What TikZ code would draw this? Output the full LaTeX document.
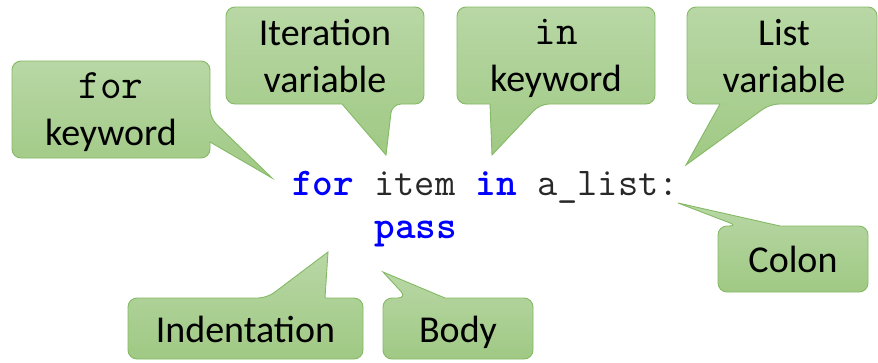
\documentclass[tikz,border=0pt]{standalone}
\usepackage{fontspec}
\setmainfont{Carlito}
\definecolor{bubbletop}{RGB}{184,215,165}
\definecolor{bubblebot}{RGB}{160,201,132}
\definecolor{bubbleline}{RGB}{132,186,101}
\definecolor{kwblue}{RGB}{0,0,255}
\definecolor{codegray}{RGB}{40,40,40}
\newcommand{\kw}[1]{\textcolor{kwblue}{\textbf{#1}}}
\tikzset{
    bubble/.style={draw=bubbleline, line width=0.9pt, top color=bubbletop, bottom color=bubblebot, rounded corners=9pt},
    lbl/.style={font=\fontsize{38}{47}\selectfont, align=center, inner sep=0pt},
    code/.style={font=\fontsize{39.3}{44}\selectfont\ttfamily, text=codegray, inner sep=0pt, anchor=base west}
}

\begin{document}
\begin{tikzpicture}[x=1pt,y=-1pt]
    \useasboundingbox (0,0) rectangle (878,362);
    \fill[white] (0,0) rectangle (878,362);

    \coordinate (forkwtip) at (272,178);
    \coordinate (itertip) at (386,155);
    \coordinate (inkwtip) at (492,155);
    \coordinate (listtip) at (686,165);
    \coordinate (colontip) at (678,203);
    \coordinate (indenttip) at (328,252);
    \coordinate (bodytip) at (383,272);

    \path[bubble] (111,61) -- (210,61) -- (210,118) [sharp corners] -- (forkwtip) -- (210,142) [rounded corners=9pt] -- (210,158) -- (12,158) -- (12,61) -- cycle;
    \path[bubble] (325,7) -- (424,7) -- (424,104) -- (392,104) [sharp corners] -- (itertip) -- (342,104) [rounded corners=9pt] -- (226,104) -- (226,7) -- cycle;
    \path[bubble] (556,7) -- (655,7) -- (655,104) -- (540,104) [sharp corners] -- (inkwtip) -- (490,104) [rounded corners=9pt] -- (457,104) -- (457,7) -- cycle;
    \path[bubble] (782,7) -- (877,7) -- (877,104) -- (770,104) [sharp corners] -- (listtip) -- (720,104) [rounded corners=9pt] -- (687,104) -- (687,7) -- cycle;
    \path[bubble] (830,226) -- (868,226) -- (868,292) -- (718,292) -- (718,226) -- (738,226) [sharp corners] -- (colontip) -- (780,226) [rounded corners=9pt] -- cycle;
    \path[bubble] (128,330) -- (128,298) -- (267,298) [sharp corners] -- (indenttip) -- (325,298) [rounded corners=9pt] -- (363,298) -- (363,359) -- (128,359) -- cycle;
    \path[bubble] (383,330) -- (383,298) -- (407,298) [sharp corners] -- (bodytip) -- (445,298) [rounded corners=9pt] -- (533,298) -- (533,359) -- (383,359) -- cycle;

    \node[lbl] (forkw) at (111,112) {{\fontsize{42}{47}\selectfont\ttfamily for}\\keyword};
    \node[lbl] (iter) at (325,56) {Iteration\\variable};
    \node[lbl] (inkw) at (556,58) {{\fontsize{42}{47}\selectfont\ttfamily in}\\keyword};
    \node[lbl] (listvar) at (784,56) {List\\variable};
    \node[lbl, anchor=base] (colon) at (793,272) {Colon};
    \node[lbl, anchor=base] (indent) at (245.5,342) {Indentation};
    \node[lbl, anchor=base] (body) at (458,342) {Body};

    \node[code] (line1) at (292,195) {\kw{for} item \kw{in} a\_list:};
    \node[code] (line2) at (374.5,238) {\kw{pass}};
\end{tikzpicture}
\end{document}
